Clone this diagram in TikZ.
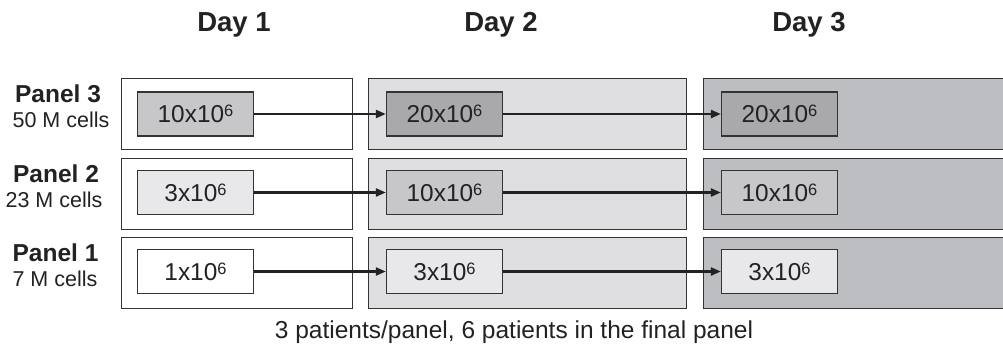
\documentclass[tikz,border=0pt]{standalone}
\usepackage{fontspec}
\setmainfont{Liberation Sans}
\usetikzlibrary{arrows.meta}
\definecolor{edge}{HTML}{333333}
\definecolor{arr}{HTML}{222222}
\definecolor{dtwo}{HTML}{DFDFE1}
\definecolor{dthree}{HTML}{BDBEC1}
\definecolor{gmid}{HTML}{C7C7C9}
\definecolor{gdark}{HTML}{A9A9AB}
\definecolor{glight}{HTML}{E8E8EA}
\newcommand{\sixsup}{\raisebox{5.8pt}{\fontsize{16.5}{17}\selectfont 6}}
\tikzset{
  outerbox/.style={draw=edge, line width=1.3pt, anchor=north west, minimum height=71pt, inner sep=0pt},
  cellbox/.style={draw=edge, line width=1.3pt, minimum width=116pt, minimum height=44pt, inner sep=0pt,
    text height=17.5pt, text depth=0pt, font=\fontsize{24.4}{28}\selectfont, text=arr},
  flow/.style={draw=arr, line width=2.2pt, -{Triangle[length=10pt,width=8pt]}},
  daylabel/.style={anchor=base, font=\bfseries\fontsize{27.5}{32}\selectfont, text=arr, inner sep=0pt},
  panellabel/.style={anchor=base, font=\bfseries\fontsize{24.5}{28}\selectfont, text=arr, inner sep=0pt},
  cellslabel/.style={anchor=base, font=\fontsize{21.5}{25}\selectfont, text=arr, inner sep=0pt},
  footlabel/.style={anchor=base, font=\fontsize{24.5}{28}\selectfont, text=arr, inner sep=0pt}
}
\begin{document}
\begin{tikzpicture}[x=1pt,y=-1pt]
\useasboundingbox (0,0) rectangle (1003,349);
% day labels
\node[daylabel] (d1) at (234,31.7) {Day 1};
\node[daylabel] (d2) at (501,31.7) {Day 2};
\node[daylabel] (d3) at (809,31.7) {Day 3};
% outer boxes: rows 3,2,1 tops 78,157.5,237
\foreach \r/\t in {3/78,2/157.5,1/237}{
  \node[outerbox, fill=white, minimum width=231pt] (o1\r) at (121,\t) {};
  \node[outerbox, fill=dtwo, minimum width=318pt] (o2\r) at (368,\t) {};
  \node[outerbox, fill=dthree, minimum width=310pt] (o3\r) at (703,\t) {};
}
% panel labels
\node[panellabel] (p3) at (58,102.7) {Panel 3};
\node[cellslabel] (c3) at (61,127.7) {50 M cells};
\node[panellabel] (p2) at (56,182.2) {Panel 2};
\node[cellslabel] (c2) at (54,207.2) {23 M cells};
\node[panellabel] (p1) at (55.5,261.7) {Panel 1};
\node[cellslabel] (c1) at (55,286.7) {7 M cells};
% cell boxes
\node[cellbox, fill=gmid]   (b13) at (195.5,114) {10x10\sixsup};
\node[cellbox, fill=gdark]  (b23) at (444.5,114) {20x10\sixsup};
\node[cellbox, fill=gdark]  (b33) at (779.5,114) {20x10\sixsup};
\node[cellbox, fill=glight] (b12) at (195.5,192.5) {3x10\sixsup};
\node[cellbox, fill=gmid]   (b22) at (444.5,192.5) {10x10\sixsup};
\node[cellbox, fill=gmid]   (b32) at (779.5,192.5) {10x10\sixsup};
\node[cellbox, fill=white]  (b11) at (195.5,271.5) {1x10\sixsup};
\node[cellbox, fill=glight] (b21) at (444.5,271.5) {3x10\sixsup};
\node[cellbox, fill=glight] (b31) at (779.5,271.5) {3x10\sixsup};
% arrows
\foreach \r in {1,2,3}{
  \draw[flow] (b1\r.east) -- (b2\r.west);
  \draw[flow] (b2\r.east) -- (b3\r.west);
}
% footer
\node[footlabel] (foot) at (514,338) {3 patients/panel, 6 patients in the final panel};
\end{tikzpicture}
\end{document}
